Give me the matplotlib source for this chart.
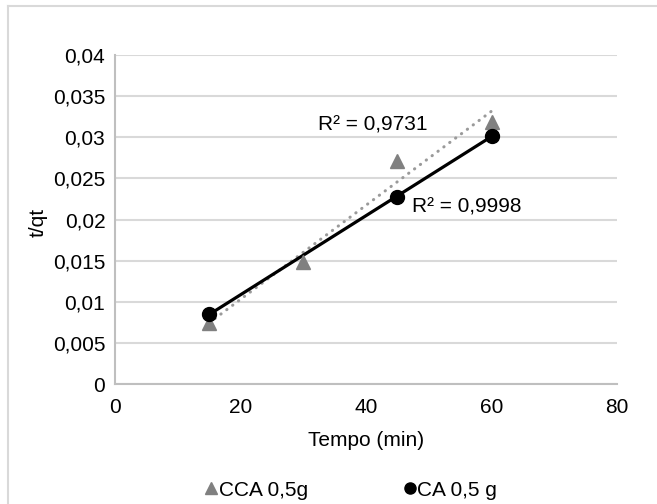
import matplotlib
matplotlib.use("Agg")
import matplotlib.pyplot as plt
from matplotlib.lines import Line2D
import numpy as np

plt.rcParams['font.family'] = ['Liberation Sans', 'DejaVu Sans']

# Data
tempo_cca = [15, 30, 45, 60]
tq_cca = [0.0074, 0.0148, 0.0271, 0.0319]
tempo_ca = [15, 45, 60]
tq_ca = [0.0085, 0.0227, 0.0302]
labels = ["CCA 0,5g", "CA 0,5 g"]
r2_labels = ["R² = 0,9731", "R² = 0,9998"]
xticks = [0, 20, 40, 60, 80]
yticks = [0, 0.005, 0.01, 0.015, 0.02, 0.025, 0.03, 0.035, 0.04]
ytick_labels = ["0", "0,005", "0,01", "0,015", "0,02", "0,025", "0,03", "0,035", "0,04"]

W, H = 657, 504
fig = plt.figure(figsize=(W/100, H/100), dpi=100)
ax = fig.add_axes([115/W, 1-384/H, (617-115)/W, (384-55)/H])

fs = 15
grid_c = '#d9d9d9'

ax.set_xlim(0, 80)
ax.set_ylim(0, 0.04)
ax.set_xticks(xticks)
ax.set_xticklabels([str(v) for v in xticks])
ax.set_yticks(yticks)
ax.set_yticklabels(ytick_labels)
ax.tick_params(axis='both', length=0, labelsize=fs, colors='#404040', labelcolor='black')
ax.tick_params(axis='x', pad=10)
ax.tick_params(axis='y', pad=7)
ax.grid(axis='y', color=grid_c, lw=1.5)
ax.set_axisbelow(True)
for s in ['top', 'right']:
    ax.spines[s].set_visible(False)
for s in ['left', 'bottom']:
    ax.spines[s].set_color('#bfbfbf')
    ax.spines[s].set_linewidth(1.5)

# trendlines
xc = np.array(tempo_cca, dtype=float)
pc = np.polyfit(xc, tq_cca, 1)
ax.plot([xc.min(), xc.max()], np.polyval(pc, [xc.min(), xc.max()]),
        color='#9a9a9a', lw=2.2, linestyle=(0, (0.1, 2.3)), dash_capstyle='round', zorder=2)
xa = np.array(tempo_ca, dtype=float)
pa = np.polyfit(xa, tq_ca, 1)
ax.plot([xa.min(), xa.max()], np.polyval(pa, [xa.min(), xa.max()]),
        color='black', lw=2.3, zorder=3)

ax.plot(tempo_cca, tq_cca, linestyle='none', marker='^', ms=10.5, color='#808080', zorder=4)
ax.plot(tempo_ca, tq_ca, linestyle='none', marker='o', ms=10, color='black', zorder=5)

ax.text(41.0, 0.0308, r2_labels[0], fontsize=fs, ha='center', va='baseline')
ax.text(56.0, 0.0208, r2_labels[1], fontsize=fs, ha='center', va='baseline')

fig.text(366/W, 1-440/H, "Tempo (min)", fontsize=fs, ha='center', va='center')
fig.text(38/W, 1-222/H, "t/qt", fontsize=fs, ha='center', va='center', rotation=90)

handles = [Line2D([], [], linestyle='none', marker='^', ms=8, color='#808080'),
           Line2D([], [], linestyle='none', marker='o', ms=8, color='black')]
fig.legend(handles, labels, loc='center', bbox_to_anchor=(351/W, 1-490/H), ncol=2,
           frameon=False, fontsize=fs, handlelength=0.6, handletextpad=0.05,
           columnspacing=4.6, borderpad=0)

# outer chart border (top and left visible)
fig.add_artist(Line2D([8/W, 8/W], [0, 1-6/H], color=grid_c, lw=1.5, transform=fig.transFigure))
fig.add_artist(Line2D([8/W, 1], [1-6/H, 1-6/H], color=grid_c, lw=1.5, transform=fig.transFigure))

fig.savefig("out.png", dpi=100)
